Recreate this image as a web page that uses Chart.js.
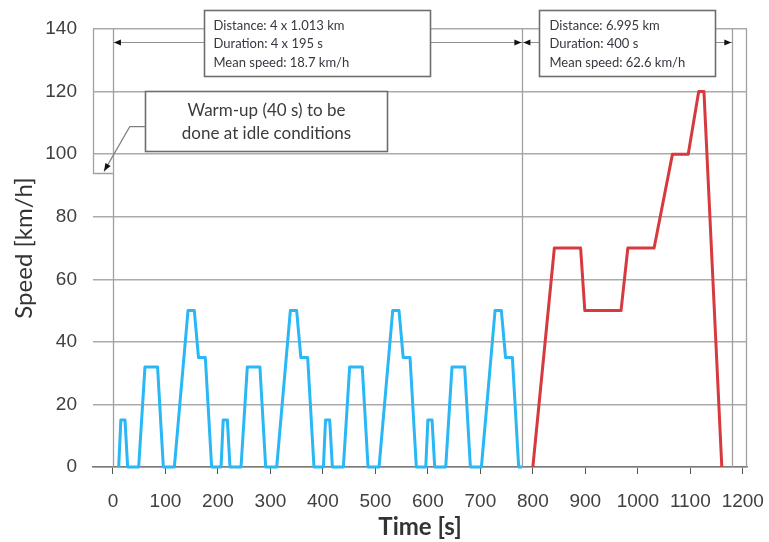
<!DOCTYPE html>
<html><head><meta charset="utf-8">
<script src="https://cdn.jsdelivr.net/npm/chart.js@4/dist/chart.umd.min.js"></script>
<style>body{margin:0;background:#fff}canvas{display:block}</style>
</head><body>
<canvas id="c" width="769" height="542"></canvas>
<script>
// ECE-15 urban part (4 repeats), time [s] and speed [km/h]
const urbanTime = [
  11,15,23,28,49,61,85,96,117,143,155,163,176,188,
  206,210,218,223,244,256,280,291,312,338,350,358,371,383,
  401,405,413,418,439,451,475,486,507,533,545,553,566,578,
  596,600,608,613,634,646,670,681,702,728,740,748,761,773,
  780
];
const urbanSpeed = [
  0,15,15,0,0,32,32,0,0,50,50,35,35,0,
  0,15,15,0,0,32,32,0,0,50,50,35,35,0,
  0,15,15,0,0,32,32,0,0,50,50,35,35,0,
  0,15,15,0,0,32,32,0,0,50,50,35,35,0,
  0
];
// EUDC extra-urban part
const extraTime  = [800,841,891,899,968,981,1031,1066,1096,1116,1126,1160];
const extraSpeed = [0,70,70,50,50,70,70,100,100,120,120,0];

const xTickValues = [0,100,200,300,400,500,600,700,800,900,1000,1100,1200];
const yTickValues = [0,20,40,60,80,100,120,140];

const urbanBoxLines = ['Distance: 4 x 1.013 km','Duration: 4 x 195 s','Mean speed: 18.7 km/h'];
const extraBoxLines = ['Distance: 6.995 km','Duration: 400 s','Mean speed: 62.6 km/h'];
const warmupLines = ['Warm-up (40 s) to be','done at idle conditions'];

const toPts = (t, s) => t.map((v, i) => ({x: v, y: s[i]}));

function head(ctx, tx, ty, fx, fy, len, hw) {
  const a = Math.atan2(ty - fy, tx - fx);
  ctx.beginPath();
  ctx.moveTo(tx, ty);
  ctx.lineTo(tx - len*Math.cos(a) + hw*Math.sin(a), ty - len*Math.sin(a) - hw*Math.cos(a));
  ctx.lineTo(tx - len*Math.cos(a) - hw*Math.sin(a), ty - len*Math.sin(a) + hw*Math.cos(a));
  ctx.closePath();
  ctx.fill();
}

const annot = {
  id: 'annot',
  beforeDatasetsDraw(chart) {
    const {ctx, chartArea: ca, scales: {x, y}} = chart;
    ctx.save();
    ctx.strokeStyle = '#a0a0a0';
    ctx.lineWidth = 1.3;
    [0, 780, 1180].forEach(v => {
      const px = Math.round(x.getPixelForValue(v)) + 0.5;
      ctx.beginPath(); ctx.moveTo(px, ca.top); ctx.lineTo(px, ca.bottom); ctx.stroke();
    });
    // right frame
    ctx.beginPath(); ctx.moveTo(ca.right - 0.5, ca.top); ctx.lineTo(ca.right - 0.5, ca.bottom); ctx.stroke();
    // warm-up bracket
    const yb = Math.round(y.getPixelForValue(94)) + 0.5;
    ctx.beginPath();
    ctx.moveTo(ca.left + 0.5, ca.top);
    ctx.lineTo(ca.left + 0.5, yb);
    ctx.lineTo(x.getPixelForValue(0), yb);
    ctx.stroke();
    ctx.restore();
  },
  afterDatasetsDraw(chart) {
    const {ctx, scales: {x, y}} = chart;
    ctx.save();
    // duration arrows
    const ay = Math.round(y.getPixelForValue(135.7)) + 0.5;
    const x0 = x.getPixelForValue(0), x1 = x.getPixelForValue(780), x2 = x.getPixelForValue(1180);
    ctx.strokeStyle = '#909090'; ctx.lineWidth = 1.2; ctx.fillStyle = '#111';
    ctx.beginPath(); ctx.moveTo(x0, ay); ctx.lineTo(x2, ay); ctx.stroke();
    head(ctx, x0 + 1, ay, x0 + 20, ay, 7, 3);
    head(ctx, x1 - 1, ay, x1 - 20, ay, 7, 3);
    head(ctx, x1 + 1, ay, x1 + 20, ay, 7, 3);
    head(ctx, x2 - 1, ay, x2 - 20, ay, 7, 3);

    function box(x0v, x1v, y0v, y1v) {
      const l = Math.round(x.getPixelForValue(x0v)) + 0.5, r = Math.round(x.getPixelForValue(x1v)) + 0.5;
      const t = Math.round(y.getPixelForValue(y0v)) + 0.5, b = Math.round(y.getPixelForValue(y1v)) + 0.5;
      ctx.fillStyle = '#fff'; ctx.fillRect(l, t, r - l, b - t);
      ctx.strokeStyle = '#6e6e6e'; ctx.lineWidth = 1.6; ctx.strokeRect(l, t, r - l, b - t);
      return {l, r, t, b};
    }
    ctx.font = '13px Lato';
    ctx.textBaseline = 'middle'; ctx.textAlign = 'left';
    let bx = box(173, 604, 146.2, 125.1);
    ctx.fillStyle = '#3b3540';
    urbanBoxLines.forEach((s, i) => ctx.fillText(s, bx.l + 9, bx.t + 15 + i * 18.5));
    bx = box(811, 1147, 146.2, 125.1);
    ctx.fillStyle = '#3b3540';
    extraBoxLines.forEach((s, i) => ctx.fillText(s, bx.l + 10, bx.t + 15 + i * 18.5));

    // warm-up box
    bx = box(61, 522, 120.3, 101.1);
    ctx.fillStyle = '#3b3b3b'; ctx.font = '17px Lato'; ctx.textAlign = 'center';
    warmupLines.forEach((s, i) => ctx.fillText(s, (bx.l + bx.r) / 2, bx.t + 19 + i * 23));
    // warm-up pointer
    const py = y.getPixelForValue(108.8);
    const bendX = x.getPixelForValue(32), tipX = x.getPixelForValue(-17), tipY = y.getPixelForValue(94.5);
    ctx.strokeStyle = '#808080'; ctx.lineWidth = 1.2;
    ctx.beginPath(); ctx.moveTo(bx.l, py); ctx.lineTo(bendX, py); ctx.lineTo(tipX, tipY); ctx.stroke();
    ctx.fillStyle = '#111';
    head(ctx, tipX, tipY, bendX, py, 8, 3);
    ctx.restore();
  }
};

new Chart(document.getElementById('c'), {
  type: 'line',
  data: {
    datasets: [
      {data: toPts(urbanTime, urbanSpeed), borderColor: '#2ab7f6', borderWidth: 3, pointRadius: 0, tension: 0, clip: false, borderJoinStyle: 'round'},
      {data: toPts(extraTime, extraSpeed), borderColor: '#d63a3e', borderWidth: 3, pointRadius: 0, tension: 0, clip: false, borderJoinStyle: 'round'}
    ]
  },
  options: {
    responsive: false, animation: false, devicePixelRatio: 1,
    layout: {padding: {left: 0, right: 22, top: 29, bottom: 0}},
    plugins: {legend: {display: false}, tooltip: {enabled: false}},
    scales: {
      x: {
        type: 'linear', min: -38, max: 1208,
        afterBuildTicks: s => { s.ticks = xTickValues.map(v => ({value: v})); },
        afterFit: s => { s.height = 75; s.paddingRight = 0; },
        grid: {drawOnChartArea: false, drawTicks: true, tickLength: 7, color: '#555', lineWidth: 1},
        border: {display: true, color: '#7a7a7a', width: 1.5},
        ticks: {font: {family: 'Liberation Sans', size: 19}, color: '#404040', padding: 16, maxRotation: 0, autoSkip: false,
                callback: v => String(v)},
        title: {display: true, text: 'Time [s]', font: {family: 'Lato', size: 24, weight: 'bold'}, color: '#333', padding: {top: 0, bottom: 0}}
      },
      y: {
        min: 0, max: 140,
        afterBuildTicks: s => { s.ticks = yTickValues.map(v => ({value: v})); },
        afterFit: s => { s.width = 93; },
        grid: {color: '#ababab', lineWidth: 1.5, drawTicks: false},
        border: {display: false},
        ticks: {font: {family: 'Liberation Sans', size: 19}, color: '#404040', padding: 16, callback: v => String(v)},
        title: {display: true, text: 'Speed [km/h]', font: {family: 'Lato', size: 24}, color: '#333', padding: {top: 10, bottom: 10}}
      }
    }
  },
  plugins: [annot]
});
</script>
</body></html>
